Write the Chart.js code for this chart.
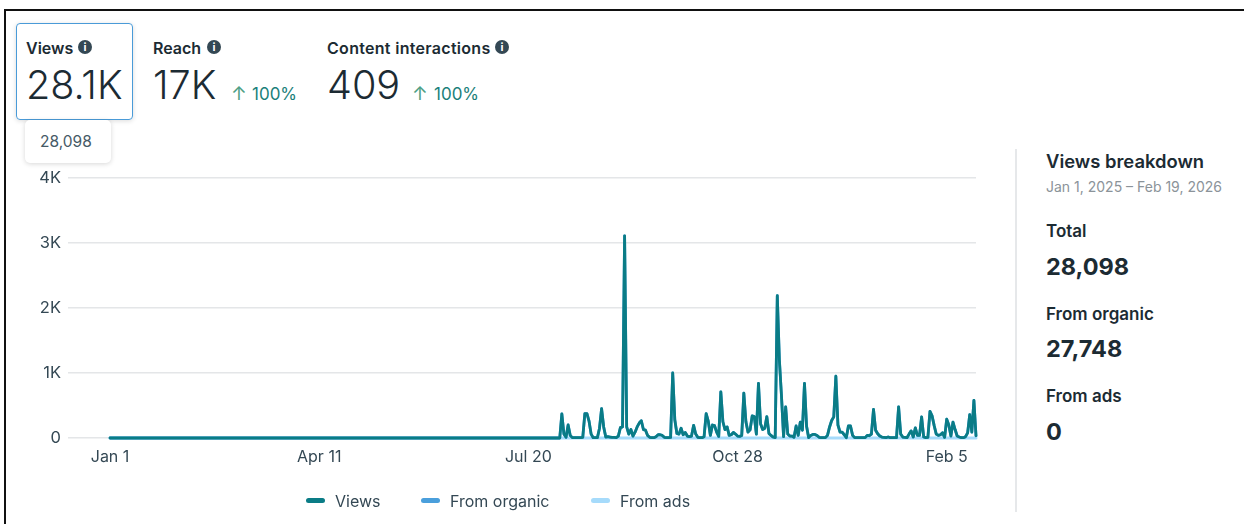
<!DOCTYPE html>
<html>
<head>
<meta charset="utf-8">
<title>Views</title>
<script src="https://cdn.jsdelivr.net/npm/chart.js@4/dist/chart.umd.min.js"></script>
<style>
  html, body { margin: 0; padding: 0; background: #fff; }
  body { width: 1244px; height: 524px; position: relative; overflow: hidden; font-family: Inter, sans-serif; color: #1c2b33; }
  .frame { position: absolute; left: 4px; top: 9px; width: 1260px; height: 540px; border: 2px solid #111; box-sizing: border-box; }
  .abs { position: absolute; white-space: nowrap; line-height: 1; }
  .card { position: absolute; left: 16px; top: 23px; width: 117px; height: 97px; box-sizing: border-box; border: 1.5px solid #4a9bd8; border-radius: 4px; box-shadow: 0 1px 5px rgba(0,0,0,.14); }
  .tip { position: absolute; left: 25px; top: 120px; width: 86px; height: 43px; background: #fff; border-radius: 5px; box-shadow: 0 1px 5px rgba(0,0,0,.16); }
  .name { font-size: 16px; font-weight: 600; }
  .big { font-size: 39.6px; font-weight: 300; color: #1c2b33; }
  .info { position: absolute; width: 14px; height: 14px; border-radius: 50%; background: #344854; color: #fff; font-size: 11px; font-weight: 700; line-height: 14px; text-align: center; }
  .pct { font-size: 17px; color: #1a7f7a; }
  .arrow { font-size: 19px; color: #4f9f86; }
  .rule { position: absolute; left: 1015px; top: 149px; width: 2px; height: 363px; background: #e6e8ea; }
  .head { font-size: 18.4px; font-weight: 600; }
  .range { font-size: 14px; color: #8b9399; }
  .sub { font-size: 17px; font-weight: 600; }
  .num { font-size: 23.5px; font-weight: 700; }
  .swatch { position: absolute; top: 498px; width: 19px; height: 5px; border-radius: 2.5px; }
  .key { font-size: 16px; color: #344854; top: 493px; }
  #chartBox { position: absolute; left: 0; top: 160px; width: 997px; height: 364px; }
</style>
</head>
<body>
<div class="frame"></div>

<div class="card"></div>
<div class="abs name" style="left:26px;top:40px">Views</div>
<div class="info" style="left:78px;top:40px">i</div>
<div class="abs big" style="left:26px;top:66px">28.1K</div>
<div class="tip"></div>
<div class="abs" style="left:40px;top:134px;font-size:15.5px;color:#465a66">28,098</div>

<div class="abs name" style="left:153px;top:40px">Reach</div>
<div class="info" style="left:207px;top:40px">i</div>
<div class="abs big" style="left:153px;top:66px">17K</div>
<div class="abs arrow" style="left:231px;top:84px">↑</div>
<div class="abs pct" style="left:252px;top:86px">100%</div>

<div class="abs name" style="left:327px;top:40px;letter-spacing:.3px">Content interactions</div>
<div class="info" style="left:495px;top:40px">i</div>
<div class="abs big" style="left:327px;top:66px">409</div>
<div class="abs arrow" style="left:412px;top:84px">↑</div>
<div class="abs pct" style="left:434px;top:86px">100%</div>

<div class="rule"></div>
<div class="abs head" style="left:1046px;top:152px">Views breakdown</div>
<div class="abs range" style="left:1046px;top:180px">Jan 1, 2025 – Feb 19, 2026</div>
<div class="abs sub" style="left:1046px;top:223px">Total</div>
<div class="abs num" style="left:1046px;top:255px">28,098</div>
<div class="abs sub" style="left:1046px;top:306px">From organic</div>
<div class="abs num" style="left:1046px;top:337px">27,748</div>
<div class="abs sub" style="left:1046px;top:388px">From ads</div>
<div class="abs num" style="left:1046px;top:420px">0</div>

<div id="chartBox"><canvas id="viewsChart" width="997" height="364"></canvas></div>

<div class="swatch" style="left:306px;background:#0a7c86"></div>
<div class="abs key" style="left:335px">Views</div>
<div class="swatch" style="left:421px;background:#4a9fdc"></div>
<div class="abs key" style="left:450px">From organic</div>
<div class="swatch" style="left:591px;background:#a6dbfb"></div>
<div class="abs key" style="left:620px">From ads</div>

<script>
// daily views, Jan 1 2025 onward
const viewsValues = [
  0,0,0,0,0,0,0,0,0,0, 0,0,0,0,0,0,0,0,0,0,
  0,0,0,0,0,0,0,0,0,0, 0,0,0,0,0,0,0,0,0,0,
  0,0,0,0,0,0,0,0,0,0, 0,0,0,0,0,0,0,0,0,0,
  0,0,0,0,0,0,0,0,0,0, 0,0,0,0,0,0,0,0,0,0,
  0,0,0,0,0,0,0,0,0,0, 0,0,0,0,0,0,0,0,0,0,
  0,0,0,0,0,0,0,0,0,0, 0,0,0,0,0,0,0,0,0,0,
  0,0,0,0,0,0,0,0,0,0, 0,0,0,0,0,0,0,0,0,0,
  0,0,0,0,0,0,0,0,0,0, 0,0,0,0,0,0,0,0,0,0,
  0,0,0,0,0,0,0,0,0,0, 0,0,0,0,0,0,0,0,0,0,
  0,0,0,0,0,0,0,0,0,0, 0,0,0,0,0,0,0,0,0,0,
  0,0,0,0,0,0,0,0,0,0,
  0,0,0,0,0,0,370,60,10,200,
  40,5,5,5,5,5,10,375,375,260,
  60,5,5,5,150,450,170,15,20,15,
  10,10,5,30,160,170,3110,170,60,130,
  30,90,170,230,265,130,120,40,10,5,
  5,20,50,50,40,10,5,5,10,1000,
  280,70,60,150,50,85,30,20,30,195,
  60,10,5,5,20,375,260,40,200,190,
  90,25,710,250,130,170,40,50,85,60,
  30,25,40,690,250,90,125,340,330,60,
  840,220,130,150,330,70,40,15,5,2190,
  1200,650,20,480,60,30,30,10,185,40,
  245,120,840,180,5,40,55,55,40,10,
  5,5,5,40,170,270,325,950,200,90,
  90,50,5,185,185,40,5,5,5,5,
  5,5,40,35,60,440,120,65,30,15,
  10,5,15,5,5,5,5,480,60,15,
  10,5,60,110,15,155,40,40,325,15,
  5,10,410,340,190,60,40,50,80,10,
  290,200,30,245,130,30,15,5,5,20,
  80,360,90,580,35
];
// organic sits right under the views line
const organicValues = viewsValues;
const adsValues = [
  0,0,0,0,0,0,0,0,0,0, 0,0,0,0,0,0,0,0,0,0,
  0,0,0,0,0,0,0,0,0,0, 0,0,0,0,0,0,0,0,0,0,
  0,0,0,0,0,0,0,0,0,0, 0,0,0,0,0,0,0,0,0,0,
  0,0,0,0,0,0,0,0,0,0, 0,0,0,0,0,0,0,0,0,0,
  0,0,0,0,0,0,0,0,0,0, 0,0,0,0,0,0,0,0,0,0,
  0,0,0,0,0,0,0,0,0,0, 0,0,0,0,0,0,0,0,0,0,
  0,0,0,0,0,0,0,0,0,0, 0,0,0,0,0,0,0,0,0,0,
  0,0,0,0,0,0,0,0,0,0, 0,0,0,0,0,0,0,0,0,0,
  0,0,0,0,0,0,0,0,0,0, 0,0,0,0,0,0,0,0,0,0,
  0,0,0,0,0,0,0,0,0,0, 0,0,0,0,0,0,0,0,0,0,
  0,0,0,0,0,0,0,0,0,0, 0,0,0,0,0,0,0,0,0,0,
  0,0,0,0,0,0,0,0,0,0, 0,0,0,0,0,0,0,0,0,0,
  0,0,0,0,0,0,0,0,0,0, 0,0,0,0,0,0,0,0,0,0,
  0,0,0,0,0,0,0,0,0,0, 0,0,0,0,0,0,0,0,0,0,
  0,0,0,0,0,0,0,0,0,0, 0,0,0,0,0,0,0,0,0,0,
  0,0,0,0,0,0,0,0,0,0, 0,0,0,0,0,0,0,0,0,0,
  0,0,0,0,0,0,0,0,0,0, 0,0,0,0,0,0,0,0,0,0,
  0,0,0,0,0,0,0,0,0,0, 0,0,0,0,0,0,0,0,0,0,
  0,0,0,0,0,0,0,0,0,0, 0,0,0,0,0,0,0,0,0,0,
  0,0,0,0,0,0,0,0,0,0, 0,0,0,0,0,0,0,0,0,0,
  0,0,0,0,0,0,0,0,0,0, 0,0,0,0,0
];
const xTickDays = [0, 100, 200, 300, 400];
const xTickLabels = ['Jan 1', 'Apr 11', 'Jul 20', 'Oct 28', 'Feb 5'];
const yTickValues = [0, 1000, 2000, 3000, 4000];
const yTickLabels = ['0', '1K', '2K', '3K', '4K'];
const seriesNames = ['Views', 'From organic', 'From ads'];
const seriesColors = ['#0a7c86', '#4a9fdc', '#a6dbfb'];
const seriesData = [viewsValues, organicValues, adsValues];

const TEXT = '#344854';
const FONT = 'Inter, sans-serif';

new Chart(document.getElementById('viewsChart'), {
    type: 'line',
    data: {
        datasets: seriesNames.map((name, i) => ({
            label: name,
            data: seriesData[i].map((v, day) => ({ x: day, y: v })),
            borderColor: seriesColors[i],
            backgroundColor: seriesColors[i],
            borderWidth: i === 2 ? 3 : 2.8,
            borderJoinStyle: 'round',
            borderCapStyle: 'round',
            pointRadius: 0,
            tension: 0,
            clip: false
        }))
    },
    options: {
        responsive: false,
        animation: false,
        layout: { padding: { top: 18, right: 21, bottom: 52 } },
        plugins: {
            tooltip: { enabled: false },
            legend: { display: false }
        },
        scales: {
            x: {
                type: 'linear',
                min: -20.1,
                max: 414,
                border: { display: false },
                grid: { display: false, drawTicks: false },
                afterBuildTicks: axis => { axis.ticks = xTickDays.map(d => ({ value: d })); },
                afterFit: axis => { axis.height = 34; },
                ticks: {
                    color: TEXT,
                    font: { family: FONT, size: 16 },
                    padding: 10,
                    maxRotation: 0,
                    autoSkip: false,
                    callback: v => xTickLabels[xTickDays.indexOf(v)]
                }
            },
            y: {
                min: 0,
                max: 4000,
                border: { display: false },
                grid: { color: '#e4e6e8', lineWidth: 1.5, drawTicks: false },
                afterBuildTicks: axis => { axis.ticks = yTickValues.map(v => ({ value: v })); },
                afterFit: axis => { axis.width = 68; },
                ticks: {
                    color: TEXT,
                    font: { family: FONT, size: 16.5 },
                    padding: 7,
                    callback: v => yTickLabels[yTickValues.indexOf(v)]
                }
            }
        }
    }
});
</script>
</body>
</html>
